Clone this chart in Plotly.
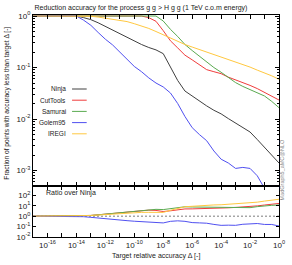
import plotly.graph_objects as go

# log10 of target relative accuracy (grid)
x_exp = [-17, -16.5, -16, -15.5, -15, -14.5, -14, -13.5, -13, -12.5, -12, -11.5, -11, -10.5,
         -10, -9.5, -9, -8.5, -8, -7.5, -7, -6.5, -6, -5.5, -5, -4.5, -4, -3.5, -3, -2.5,
         -2, -1.5, -1, -0.5, 0]

ninja = [1, 1, 1, 1, 1, 1, 1, 0.93, 0.85, 0.74, 0.63, 0.52, 0.45, 0.38, 0.32, 0.28, 0.245,
         0.22, 0.186, 0.1, 0.056, 0.035, 0.028, 0.022, 0.018, 0.0148, 0.0126, 0.0102, 0.0083,
         0.0069, 0.0056, 0.004, 0.0028, 0.002, 0.0014]
cuttools = [1, 1, 1, 1, 1, 1, 1, 1, 1, 1, 1, 1, 1, 1, 1, 1, 0.93, 0.79, 0.52, 0.33, 0.24,
            0.174, 0.141, 0.115, 0.091, 0.083, 0.076, 0.065, 0.058, 0.051, 0.045, 0.039,
            0.033, 0.028, 0.0234]
samurai = [1, 1, 1, 1, 1, 1, 1, 1, 1, 1, 1, 1, 1, 1, 1, 1, 1, 1, 0.8, 0.55, 0.4, 0.28,
           0.214, 0.166, 0.126, 0.1, 0.081, 0.063, 0.051, 0.043, 0.037, 0.033, 0.028, 0.022,
           0.0166]
golem95 = [1, 1, 1, 1, 1, 1, 1, 0.83, 0.66, 0.48, 0.355, 0.275, 0.2, 0.141, 0.105, 0.083,
           0.063, 0.05, 0.042, 0.032, 0.02, 0.0112, 0.0068, 0.005, 0.0038, 0.0024, 0.00166,
           0.0014, 0.0011, 0.00115, 0.0011, 0.00079, 0.00045, 0.00032, 0.00016]
iregi = [1, 1, 1, 1, 1, 1, 1, 1, 0.99, 0.955, 0.91, 0.87, 0.83, 0.78, 0.71, 0.65, 0.575,
         0.5, 0.43, 0.37, 0.32, 0.28, 0.25, 0.224, 0.2, 0.178, 0.158, 0.141, 0.129, 0.115,
         0.102, 0.089, 0.079, 0.069, 0.059]

names = ["Ninja", "CutTools", "Samurai", "Golem95", "IREGI"]
series = [ninja, cuttools, samurai, golem95, iregi]
colors = ["#404040", "#f03c3c", "#5aaa50", "#5050f0", "#ffc840"]

x_major_exp = list(range(-17, 1))
y_top_major_exp = [0, -1, -2, -3]
y_bot_major_exp = [-2, -1, 0, 1, 2]

FONT = "Liberation Sans, Arial, sans-serif"

x = [10 ** e for e in x_exp]

fig = go.Figure()

# top panel
for name, s, c in zip(names, series, colors):
    fig.add_trace(go.Scatter(x=x, y=s, mode="lines", name=name,
                             line=dict(color=c, width=1), xaxis="x", yaxis="y",
                             showlegend=False))

# ratio panel
fig.add_trace(go.Scatter(x=x, y=[v / n for v, n in zip(ninja, ninja)], mode="lines",
                         line=dict(color="#444444", width=0.7, dash="2px,2px"),
                         xaxis="x2", yaxis="y2", showlegend=False))
for name, s, c in zip(names[1:], series[1:], colors[1:]):
    fig.add_trace(go.Scatter(x=x, y=[v / n for v, n in zip(s, ninja)], mode="lines",
                             line=dict(color=c, width=1), xaxis="x2", yaxis="y2",
                             showlegend=False))

def sup(e):
    return "10<sup>%d</sup>" % e

x_tickvals = [10 ** e for e in x_major_exp]
x_ticktext = [sup(e) if e % 2 == 0 else " " for e in x_major_exp]

y_minor = []
for d in range(-4, 1):
    for m in range(2, 10):
        y_minor.append(m * 10 ** d)

axis_common = dict(type="log", showline=True, linecolor="black", linewidth=1,
                   mirror="ticks", ticks="inside", tickcolor="black", showgrid=False,
                   zeroline=False, tickfont=dict(family=FONT, size=8, color="#222"))

bottom_frac = 51 / 222

fig.update_layout(
    width=292, height=265,
    margin=dict(l=33, r=7, t=15, b=28),
    paper_bgcolor="white", plot_bgcolor="white",
    font=dict(family=FONT, size=7, color="#222"),
    xaxis=dict(axis_common, domain=[0, 1], anchor="y", range=[-17, 0],
               tickmode="array", tickvals=x_tickvals, ticklen=4,
               showticklabels=False, matches="x2"),
    yaxis=dict(axis_common, domain=[bottom_frac, 1], anchor="x",
               range=[-3.3, 0.02],
               tickmode="array", tickvals=[10 ** e for e in y_top_major_exp],
               ticktext=[sup(e) for e in y_top_major_exp], ticklen=4,
               minor=dict(ticks="inside", ticklen=2, tickcolor="black",
                          tickmode="array", tickvals=y_minor)),
    xaxis2=dict(axis_common, domain=[0, 1], anchor="y2", range=[-17, 0],
                tickmode="array", tickvals=x_tickvals, ticktext=x_ticktext, ticklen=4),
    yaxis2=dict(axis_common, domain=[0, bottom_frac], anchor="x2",
                range=[-2, 2.9],
                tickmode="array", tickvals=[10 ** e for e in y_bot_major_exp],
                ticktext=[sup(e) for e in y_bot_major_exp], ticklen=3),
    title=dict(text="Reduction accuracy for the process g g > H g g (1 TeV c.o.m energy)",
               x=141 / 292, xanchor="center", y=1 - 7.5 / 265, yanchor="middle",
               font=dict(family=FONT, size=7, color="#222")),
)

ann = []
# y axis title
ann.append(dict(text="Fraction of points with accuracy less than target Δ [-]",
                xref="paper", yref="paper", x=(6 - 33) / 252, y=(237 - 103) / 222,
                textangle=-90, showarrow=False, xanchor="center", yanchor="middle",
                font=dict(family=FONT, size=6.6, color="#222")))
# x axis title
ann.append(dict(text="Target relative accuracy Δ [-]", xref="paper", yref="paper",
                x=0.5, y=(237 - 256) / 222, showarrow=False, xanchor="center",
                yanchor="middle", font=dict(family=FONT, size=7, color="#222")))
ann.append(dict(text="Ratio over Ninja", xref="paper", yref="paper",
                x=(44 - 33) / 252, y=(237 - 193) / 222, showarrow=False, xanchor="left",
                yanchor="middle", font=dict(family=FONT, size=7, color="#222")))
ann.append(dict(text="MadGraph5_aMC@NLO", xref="paper", yref="paper",
                x=(288.5 - 33) / 252, y=(237 - 170) / 222, textangle=-90, showarrow=False,
                xanchor="center", yanchor="middle",
                font=dict(family=FONT, size=5.5, color="#888")))

shapes = []
for i, (name, c) in enumerate(zip(names, colors)):
    ypix = 89 + i * 11.2
    yp = (237 - ypix) / 222
    ann.append(dict(text=name, xref="paper", yref="paper", x=(69 - 33) / 252, y=yp,
                    showarrow=False, xanchor="right", yanchor="middle",
                    font=dict(family=FONT, size=6.5, color="#222")))
    shapes.append(dict(type="line", xref="paper", yref="paper",
                       x0=(73 - 33) / 252, x1=(88 - 33) / 252, y0=yp, y1=yp,
                       line=dict(color=c, width=1)))

fig.update_layout(annotations=ann, shapes=shapes)

fig.write_html("out.html", config={"displayModeBar": False},
               post_script="document.body.style.margin='0';document.body.style.padding='0';")
